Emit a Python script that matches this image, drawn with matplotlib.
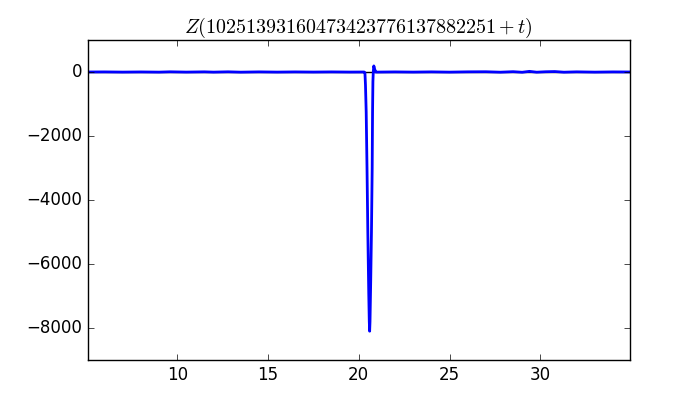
import matplotlib
matplotlib.use("Agg")
import matplotlib.pyplot as plt

plt.style.use("classic")
plt.rcParams["mathtext.fontset"] = "cm"

# baseline before the spike: t, Z (tiny wiggles around zero)
t_left = [5.06, 6.0, 7.0, 8.0, 9.0, 9.6, 10.5, 11.5, 12.0, 12.8, 13.5, 14.5,
          15.5, 16.5, 17.5, 18.5, 19.5, 20.3]
z_left = [0, 3, -3, 2, -4, 6, -3, 5, -4, 6, -5, 4, -3, 3, -2, 3, -2, 0]

# the big dip near t ~ 20.6
t_spike = [20.34, 20.37, 20.41, 20.455, 20.50, 20.55, 20.58, 20.60, 20.62,
           20.66, 20.70, 20.74, 20.76, 20.78, 20.80, 20.83, 20.87, 20.93]
z_spike = [-20, -400, -1250, -3000, -5000, -6900, -7800, -8100, -7800,
           -6500, -5000, -3000, -1250, -300, 0, 190, 100, 0]

# baseline after the spike
t_right = [21.0, 22.0, 23.0, 24.0, 25.0, 26.0, 27.0, 27.8, 28.5, 29.0, 29.4,
           29.8, 30.3, 30.8, 31.3, 32.0, 33.0, 34.0, 34.94]
z_right = [-3, 3, -3, 4, -4, 5, 8, -6, 10, -8, 20, -6, 8, 14, -6, 5, -4, 3, 0]

t = t_left + t_spike + t_right
z = z_left + z_spike + z_right

fig = plt.figure(figsize=(7, 4), dpi=100)
ax = fig.add_subplot(111)
ax.axhline(0, color="k", lw=1, zorder=1)
ax.plot(t, z, color="b", lw=2, zorder=2)
ax.set_xlim(5.06, 34.94)
ax.set_ylim(-9000, 1000)
ax.set_xticks([10, 15, 20, 25, 30])
ax.set_yticks([0, -2000, -4000, -6000, -8000])
ax.set_title(r"$Z(10251393160473423776137882251+t)$")

fig.savefig("out.png", dpi=100)
